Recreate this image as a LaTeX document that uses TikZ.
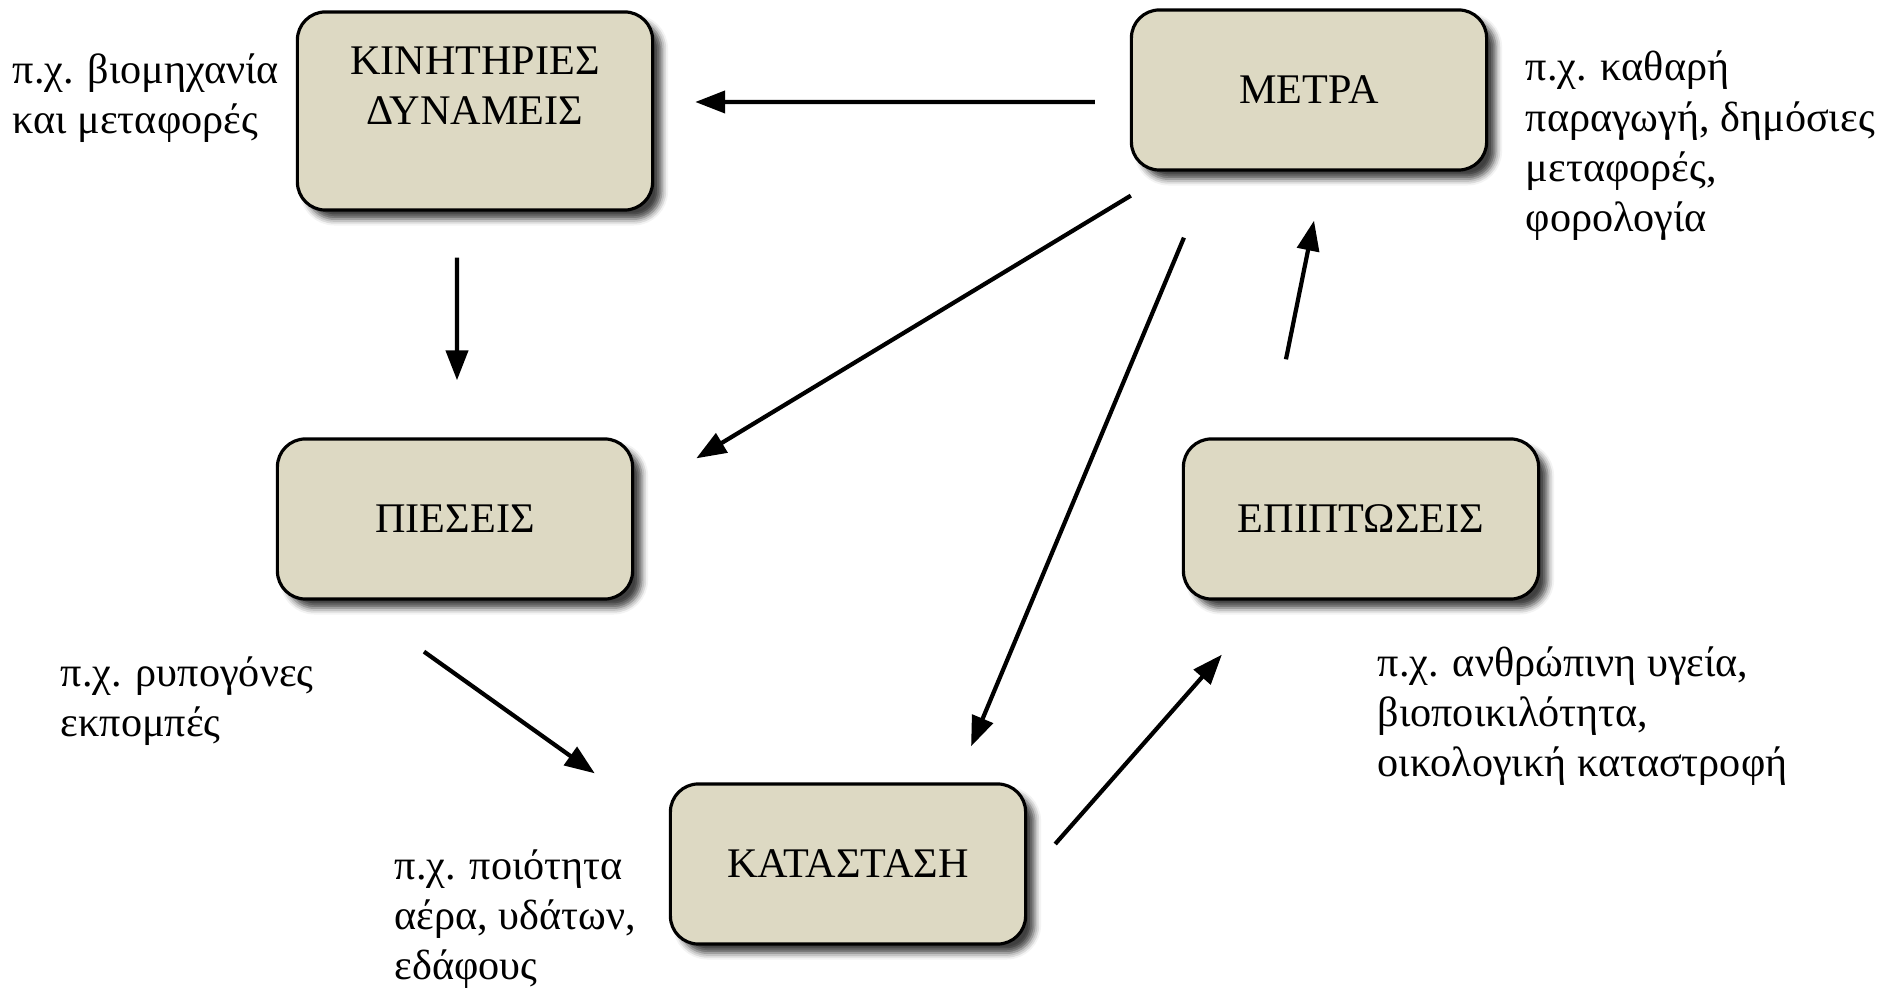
\documentclass[tikz,border=0pt]{standalone}
\usepackage{fontspec}
\setmainfont{Liberation Serif}
\usetikzlibrary{arrows.meta,shadows.blur}
\definecolor{boxtan}{RGB}{221,217,195}
\begin{document}
\begin{tikzpicture}[x=0.01cm,y=-0.01cm,
  font=\fontsize{12}{14.3}\selectfont,
  stage/.style={draw=black,line width=0.9pt,fill=boxtan,rounded corners=0.28cm,
    minimum width=3.55cm,minimum height=1.6cm,align=center,inner sep=0pt,
    blur shadow={shadow xshift=0.09cm,shadow yshift=-0.09cm,shadow blur steps=4,shadow opacity=75}},
  note/.style={anchor=west,align=left,inner sep=0pt},
  flow/.style={line width=1.2pt,-{Triangle[length=0.3cm,width=0.22cm]}}]
\useasboundingbox (0,0) rectangle (1885,989);
\node [stage,minimum height=1.98cm] (kin) at (475,111) {ΚΙΝΗΤΗΡΙΕΣ\\ΔΥΝΑΜΕΙΣ\\~};
\node [stage] (metra) at (1309,90) {ΜΕΤΡΑ};
\node [stage] (pies) at (455,519) {ΠΙΕΣΕΙΣ};
\node [stage] (epip) at (1361,519) {ΕΠΙΠΤΩΣΕΙΣ};
\node [stage] (katas) at (848,864) {ΚΑΤΑΣΤΑΣΗ};
\node [note] (nkin) at (12,98) {π.χ. βιομηχανία\\και μεταφορές};
\node [note] (nmetra) at (1525,146) {π.χ. καθαρή\\παραγωγή, δημόσιες\\μεταφορές,\\φορολογία};
\node [note] (npies) at (60,701) {π.χ. ρυπογόνες\\εκπομπές};
\node [note] (nepip) at (1377,716) {π.χ. ανθρώπινη υγεία,\\βιοποικιλότητα,\\οικολογική καταστροφή};
\node [note] (nkatas) at (394,919) {π.χ. ποιότητα\\αέρα, υδάτων,\\εδάφους};
\draw [flow] ([xshift=-0.35cm,yshift=-0.12cm]metra.west) -- ([xshift=0.41cm,yshift=0.09cm]kin.east);
\draw [flow] ([xshift=-0.18cm,yshift=-0.46cm]kin.south) -- ([xshift=0.02cm,yshift=0.57cm]pies.north);
\draw [flow] ([xshift=0.01cm,yshift=-0.24cm]metra.south west) -- ([xshift=0.62cm,yshift=-0.21cm]pies.north east);
\draw [flow] ([xshift=-1.25cm,yshift=-0.66cm]metra.south) -- ([xshift=1.23cm,yshift=0.36cm]katas.north);
\draw [flow] ([xshift=-0.31cm,yshift=-0.51cm]pies.south) -- ([xshift=-0.74cm,yshift=0.09cm]katas.north west);
\draw [flow] ([xshift=0.28cm,yshift=0.2cm]katas.east) -- ([xshift=0.4cm,yshift=-0.54cm]epip.south west);
\draw [flow] ([xshift=-0.75cm,yshift=0.78cm]epip.north) -- ([xshift=0.05cm,yshift=-0.49cm]metra.south);
\end{tikzpicture}
\end{document}
